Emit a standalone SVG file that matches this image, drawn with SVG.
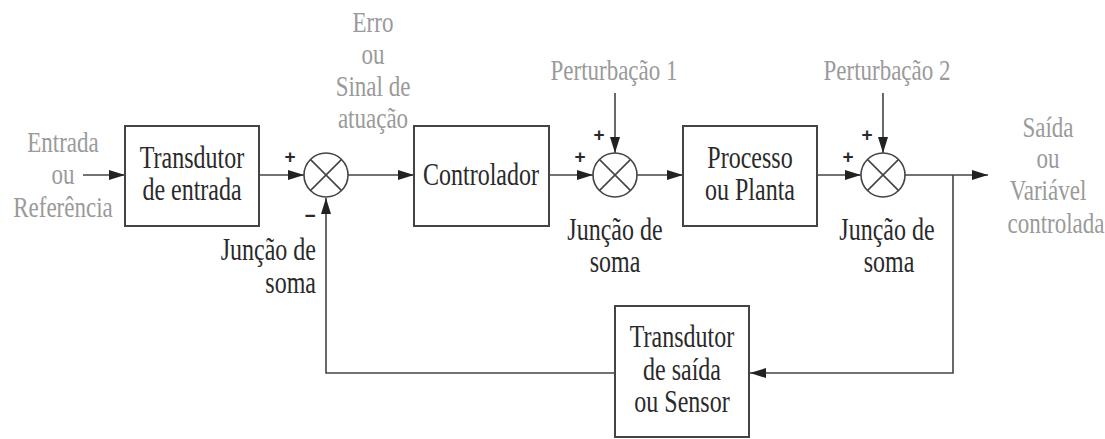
<svg xmlns="http://www.w3.org/2000/svg" width="1105" height="439" viewBox="0 0 1105 439">
<style>
.box{fill:#fff;stroke:#444;stroke-width:2}
.sum{fill:#fff;stroke:#444;stroke-width:1.6}
.x{stroke:#444;stroke-width:1.6}
.ln{fill:none;stroke:#444;stroke-width:1.6}
.t{font-family:"Liberation Serif","Times New Roman",serif;font-size:24px;fill:#2a2a2a;text-anchor:middle}
.g{font-family:"Liberation Serif","Times New Roman",serif;font-size:23px;fill:#9a9a9a;text-anchor:middle}
.s{font-family:"Liberation Sans",sans-serif;font-size:19px;font-weight:bold;fill:#2a2a2a;text-anchor:middle}
</style>
<defs>
<marker id="ah" viewBox="0 0 16 10" refX="16" refY="5" markerWidth="16" markerHeight="10" markerUnits="userSpaceOnUse" orient="auto">
<path d="M0,0 L16,5 L0,10 Z" fill="#222"/>
</marker>
</defs>
<rect width="1105" height="439" fill="#fff"/>

<g id="connectors">
<line class="ln" x1="83" y1="175" x2="125" y2="175" marker-end="url(#ah)"/>
<line class="ln" x1="259" y1="175" x2="304" y2="175" marker-end="url(#ah)"/>
<line class="ln" x1="348" y1="175" x2="414" y2="175" marker-end="url(#ah)"/>
<line class="ln" x1="549" y1="175" x2="593" y2="175" marker-end="url(#ah)"/>
<line class="ln" x1="637" y1="175" x2="683" y2="175" marker-end="url(#ah)"/>
<line class="ln" x1="817" y1="175" x2="861" y2="175" marker-end="url(#ah)"/>
<line class="ln" x1="905" y1="175" x2="988" y2="175" marker-end="url(#ah)"/>
<line class="ln" x1="615" y1="93" x2="615" y2="153" marker-end="url(#ah)"/>
<line class="ln" x1="883" y1="93" x2="883" y2="153" marker-end="url(#ah)"/>
<polyline class="ln" points="953,175 953,373 750,373" marker-end="url(#ah)"/>
<polyline class="ln" points="615,373 326,373 326,198" marker-end="url(#ah)"/>
</g>

<g id="transdutor-entrada">
<rect class="box" x="125" y="126" width="134" height="100"/>
<text class="t" transform="translate(192 168) scale(1 1.3)">Transdutor</text>
<text class="t" transform="translate(192 200) scale(1 1.3)">de entrada</text>
</g>

<g id="juncao1">
<circle class="sum" cx="326" cy="175" r="22"/>
<line class="x" x1="310.4" y1="159.4" x2="341.6" y2="190.6"/>
<line class="x" x1="341.6" y1="159.4" x2="310.4" y2="190.6"/>
<text class="s" x="290" y="163">+</text>
<text class="s" x="310" y="222">−</text>
<text class="t" style="text-anchor:end" transform="translate(316 260) scale(1 1.3)">Junção de</text>
<text class="t" style="text-anchor:end" transform="translate(316 293) scale(1 1.3)">soma</text>
</g>

<g id="controlador">
<rect class="box" x="414" y="126" width="135" height="100"/>
<text class="t" transform="translate(481 185) scale(1 1.3)">Controlador</text>
</g>

<g id="juncao2">
<circle class="sum" cx="615" cy="175" r="22"/>
<line class="x" x1="599.4" y1="159.4" x2="630.6" y2="190.6"/>
<line class="x" x1="630.6" y1="159.4" x2="599.4" y2="190.6"/>
<text class="s" x="599" y="141">+</text>
<text class="s" x="580" y="163">+</text>
<text class="t" transform="translate(615 240) scale(1 1.3)">Junção de</text>
<text class="t" transform="translate(615 272) scale(1 1.3)">soma</text>
</g>

<g id="processo">
<rect class="box" x="683" y="126" width="134" height="100"/>
<text class="t" transform="translate(750 168) scale(1 1.3)">Processo</text>
<text class="t" transform="translate(750 200) scale(1 1.3)">ou Planta</text>
</g>

<g id="juncao3">
<circle class="sum" cx="883" cy="175" r="22"/>
<line class="x" x1="867.4" y1="159.4" x2="898.6" y2="190.6"/>
<line class="x" x1="898.6" y1="159.4" x2="867.4" y2="190.6"/>
<text class="s" x="867" y="141">+</text>
<text class="s" x="848" y="163">+</text>
<text class="t" transform="translate(887 240) scale(1 1.3)">Junção de</text>
<text class="t" transform="translate(889 272) scale(1 1.3)">soma</text>
</g>

<g id="sensor">
<rect class="box" x="615" y="306" width="134" height="131"/>
<text class="t" transform="translate(682 347) scale(1 1.3)">Transdutor</text>
<text class="t" transform="translate(682 380) scale(1 1.3)">de saída</text>
<text class="t" transform="translate(682 412) scale(1 1.3)">ou Sensor</text>
</g>

<g id="labels">
<text class="g" transform="translate(63 152) scale(1 1.3)">Entrada</text>
<text class="g" transform="translate(63 184) scale(1 1.3)">ou</text>
<text class="g" transform="translate(63 217) scale(1 1.3)">Referência</text>
<text class="g" transform="translate(373 32) scale(1 1.3)">Erro</text>
<text class="g" transform="translate(373 64) scale(1 1.3)">ou</text>
<text class="g" transform="translate(373 96) scale(1 1.3)">Sinal de</text>
<text class="g" transform="translate(373 128) scale(1 1.3)">atuação</text>
<text class="g" transform="translate(614 80) scale(1 1.3)">Perturbação 1</text>
<text class="g" transform="translate(887 80) scale(1 1.3)">Perturbação 2</text>
<text class="g" transform="translate(1048 137) scale(1 1.3)">Saída</text>
<text class="g" transform="translate(1048 168) scale(1 1.3)">ou</text>
<text class="g" transform="translate(1048 200) scale(1 1.3)">Variável</text>
<text class="g" transform="translate(1056 233) scale(1 1.3)">controlada</text>
</g>
</svg>
